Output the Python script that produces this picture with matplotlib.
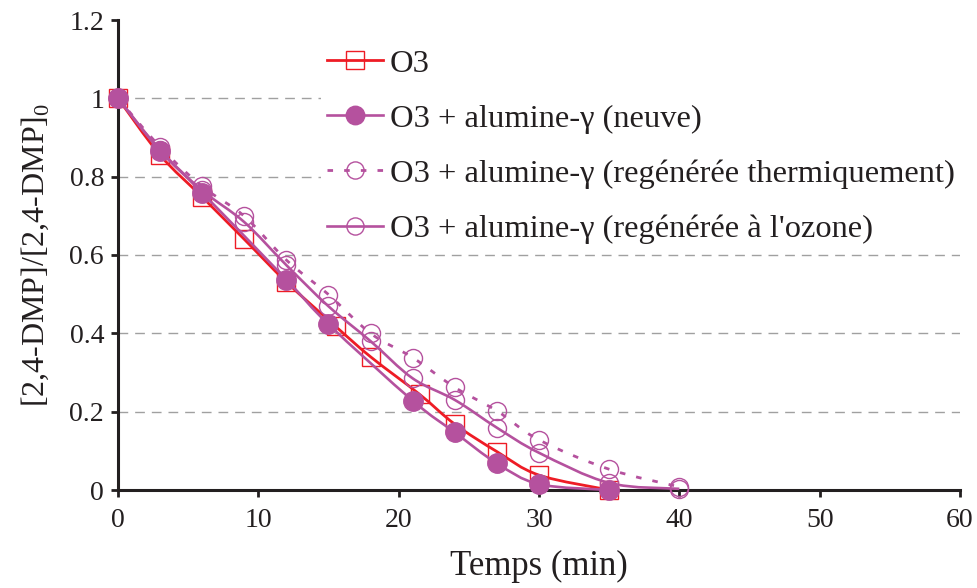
import matplotlib
matplotlib.use("Agg")
import matplotlib.pyplot as plt
from matplotlib.path import Path
from matplotlib.patches import PathPatch
from matplotlib.lines import Line2D
import numpy as np

plt.rcParams['font.family'] = ['Liberation Serif', 'DejaVu Serif']
plt.rcParams['mathtext.fontset'] = 'custom'
plt.rcParams['mathtext.rm'] = 'Liberation Serif'

# ---- data ----
t_o3 = [0, 3, 6, 9, 12, 15.5, 18, 21.5, 24, 27, 30, 35]
y_o3 = [1.0, 0.855, 0.748, 0.640, 0.531, 0.418, 0.340, 0.244, 0.168, 0.098, 0.038, 0.0]

t_neuve = [0, 3, 6, 12, 15, 21, 24, 27, 30, 35]
y_neuve = [1.0, 0.866, 0.759, 0.537, 0.423, 0.228, 0.147, 0.068, 0.015, 0.0]

t_regen = [0, 3, 6, 9, 12, 15, 18, 21, 24, 27, 30, 35, 40]
y_thermal = [1.0, 0.876, 0.775, 0.699, 0.587, 0.499, 0.400, 0.338, 0.262, 0.202, 0.128, 0.053, 0.008]
y_ozone = [1.0, 0.868, 0.765, 0.684, 0.574, 0.469, 0.380, 0.285, 0.230, 0.159, 0.095, 0.018, 0.003]

labels = ['O3',
          'O3 + alumine-γ (neuve)',
          'O3 + alumine-γ (regénérée thermiquement)',
          "O3 + alumine-γ (regénérée à l'ozone)"]
x_ticks = [0, 10, 20, 30, 40, 50, 60]
y_ticks = [0, 0.2, 0.4, 0.6, 0.8, 1.0, 1.2]
y_ticklabels = ['0', '0.2', '0.4', '0.6', '0.8', '1', '1.2']

RED = '#EE1C25'
PURPLE = '#B5519E'
TXT = '#231F20'


def smooth_path(xs, ys):
    """Excel-like smoothed line as cubic Bezier path through the data points."""
    P = np.column_stack([xs, ys]).astype(float)
    n = len(P)
    verts = [P[0]]
    codes = [Path.MOVETO]
    for i in range(n - 1):
        p0 = P[i - 1] if i > 0 else P[i]
        p1 = P[i]
        p2 = P[i + 1]
        p3 = P[i + 2] if i + 2 < n else P[i + 1]
        c1 = p1 + (p2 - p0) / 6.0
        c2 = p2 - (p3 - p1) / 6.0
        verts += [c1, c2, p2]
        codes += [Path.CURVE4] * 3
    return Path(verts, codes)


fig = plt.figure(figsize=(9.78, 5.88), dpi=100)
ax = fig.add_axes([118 / 978, 1 - 490 / 588, (960 - 118) / 978, (490 - 20) / 588])

series = [
    (t_o3, y_o3, dict(color=RED, lw=2.0, ls='-'), dict(marker='s', ms=13, mfc='none', mec=RED, mew=1.0)),
    (t_neuve, y_neuve, dict(color=PURPLE, lw=1.9, ls='-'), dict(marker='o', ms=14, mfc=PURPLE, mec=PURPLE, mew=1.0)),
    (t_regen, y_thermal, dict(color=PURPLE, lw=2.0, ls=(0, (2, 4))), dict(marker='o', ms=13, mfc='none', mec=PURPLE, mew=1.0)),
    (t_regen, y_ozone, dict(color=PURPLE, lw=1.9, ls='-'), dict(marker='o', ms=13, mfc='none', mec=PURPLE, mew=1.0)),
]

handles = []
for i, (xs, ys, lstyle, mstyle) in enumerate(series):
    patch = PathPatch(smooth_path(xs, ys), fill=False, edgecolor=lstyle['color'],
                      lw=lstyle['lw'], ls=lstyle['ls'], zorder=3 + i, clip_on=False)
    ax.add_patch(patch)
    ax.plot(xs, ys, ls='none', zorder=3 + i, clip_on=False, **mstyle)
    hs = dict(mstyle)
    hs['ms'] = mstyle['ms'] * 0.95
    handles.append(Line2D([], [], color=lstyle['color'], lw=lstyle['lw'], ls=lstyle['ls'], **hs))

ax.set_xlim(0, 60)
ax.set_ylim(0, 1.2)
ax.set_xticks(x_ticks)
ax.set_yticks(y_ticks)
ax.set_yticklabels(y_ticklabels)
ax.tick_params(axis='both', direction='out', length=5, width=2, labelsize=20, colors=TXT)
ax.tick_params(axis='y', pad=5)
ax.tick_params(axis='x', pad=8)

for s in ['top', 'right']:
    ax.spines[s].set_visible(False)
for s in ['left', 'bottom']:
    ax.spines[s].set_linewidth(2.2)
    ax.spines[s].set_color(TXT)
    ax.spines[s].set_zorder(2)

for yv in y_ticks[1:-1]:
    ax.axhline(yv, color='#A0A0A0', lw=1.0, ls=(0, (7, 5)), zorder=0)

ax.set_xlabel('Temps (min)', fontsize=25, labelpad=12, color=TXT)
ax.set_ylabel(r'[2,4-DMP]/[2,4-DMP]$_\mathregular{0}$', fontsize=23, labelpad=13, color=TXT)

leg = ax.legend(handles, labels, loc='upper left', bbox_to_anchor=(0.328, 0.928),
                bbox_transform=fig.transFigure,
                frameon=True, fontsize=23.4, handlelength=1.72, handletextpad=0.2,
                labelspacing=0.78, borderpad=0.2, borderaxespad=0)
leg.get_frame().set_edgecolor('none')
leg.get_frame().set_facecolor('white')
leg.get_frame().set_alpha(1.0)
leg.get_frame().set_boxstyle('square', pad=0)
for txt in leg.get_texts():
    txt.set_color(TXT)
leg.set_zorder(2.5)

fig.savefig('out.png', dpi=100)
